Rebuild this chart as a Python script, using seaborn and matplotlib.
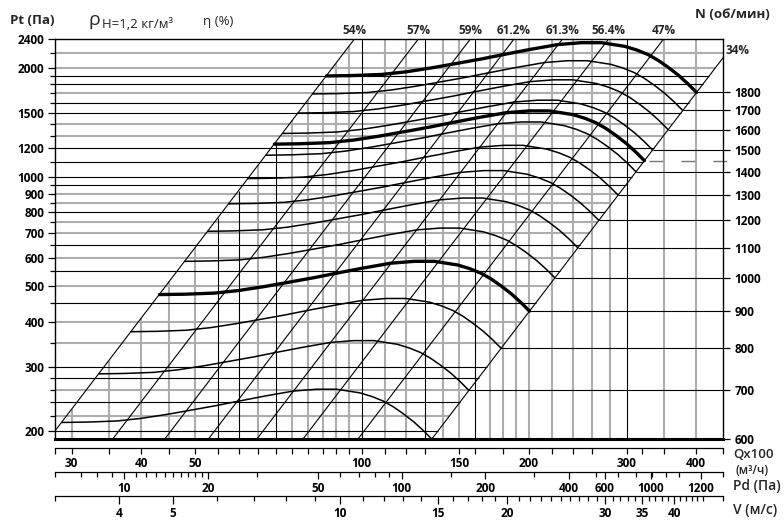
import numpy as np
import pandas as pd
import matplotlib
matplotlib.use("Agg")
import matplotlib.pyplot as plt
from matplotlib.ticker import FixedLocator, FixedFormatter, NullFormatter, NullLocator
from matplotlib.transforms import blended_transform_factory
import seaborn as sns

# ---------------- data ----------------
# base fan curve at N = 600 rpm (Q x100 m3/h, Pt Pa)
base_q = [28.8, 32.0, 36.2, 40.0, 44.5, 49.5, 54.8, 59.5, 67.4, 75.3, 83.0, 90.1,
          99.3, 104.5, 109.4, 114.0, 118.8, 124.0, 129.1, 133.7]
base_pt = [211, 211.5, 213, 216.5, 222, 228.5, 235, 241, 250, 257.5, 260.5, 260.5,
           254.5, 248.5, 241.5, 233, 223, 212, 200.5, 190]
n_base = 600
n_rpm = [600, 700, 800, 900, 1000, 1100, 1200, 1300, 1400, 1450, 1500, 1600, 1700, 1800]
n_bold = [900, 1450, 1800]
n_dashed = 1450

# efficiency (system) lines: label and Q at Pt = 200 Pa
eta_labels = ["54%", "57%", "59%", "61.2%", "61.3%", "56.4%", "47%", "34%"]
eta_q200 = [28.0, 36.5, 45.3, 54.3, 66.4, 80.4, 101.0, 137.2]

# grid lines
pt_grid_black = [200, 240, 280, 300, 450, 550, 650, 800, 950, 1000, 1100, 1200,
                 1500, 1600, 1800, 1900]
pt_grid_gray = [220, 260, 350, 400, 500, 600, 700, 750, 850, 900, 1300, 1400,
                1700, 2000, 2200]
q_grid_black = [55, 60, 70, 100, 130, 160, 300]
q_grid_gray = [30, 35, 40, 45, 50, 65, 75, 80, 85, 90, 95, 110, 120, 140, 150,
               170, 180, 190, 200, 220, 240, 260, 280, 350, 400]

# axes ticks
pt_ticks = [200, 300, 400, 500, 600, 700, 800, 900, 1000, 1200, 1500, 2000, 2400]
pt_minor = [220, 240, 260, 280, 350, 450, 550, 650, 750, 850, 950, 1100, 1300,
            1400, 1600, 1700, 1800, 1900, 2200]
n_ticks = [600, 700, 800, 900, 1000, 1100, 1200, 1300, 1400, 1500, 1600, 1700, 1800]
q_ticks = [30, 40, 50, 100, 150, 200, 300, 400]
q_minor = [35, 45, 55, 60, 65, 70, 75, 80, 85, 90, 95, 110, 120, 130, 160, 180,
           220, 240, 260, 320, 350]
pd_tick_pos = [10, 20, 50, 100, 200, 400, 540, 790, 1200]
pd_tick_lab = ["10", "20", "50", "100", "200", "400", "600", "1000", "1200"]
pd_minor = [7, 8, 9, 11, 12, 13, 14, 15, 16, 17, 18, 19, 30, 60, 70, 80, 90, 150,
            300, 500, 600, 700, 800, 900, 1000]
v_ticks = [4, 5, 10, 15, 20, 30, 35, 40]
v_minor = [6, 7, 8, 9, 11, 12, 13, 14, 16, 17, 18, 19, 21, 22, 23, 24, 25, 26, 27,
           28, 29, 31, 32, 33, 34, 36, 37, 38, 39, 41, 42, 43, 44, 45]

# ranges
Q_MIN, Q_MAX = 28.0, 447.7
PT_MIN, PT_MAX = 190.0, 2400.0
V_PER_Q = 0.1094
PD_PER_V2 = 0.6

# ---------------- figure ----------------
sns.set_theme(style="white")
plt.rcParams["font.family"] = ["Open Sans", "DejaVu Sans"]

W_PX, H_PX = 784, 520
fig = plt.figure(figsize=(W_PX / 100, H_PX / 100), dpi=100)
L, R, T, B = 55, 723, 39, 439
ax = fig.add_axes([L / W_PX, 1 - B / H_PX, (R - L) / W_PX, (B - T) / H_PX])
ax.set_xscale("log")
ax.set_yscale("log")
ax.set_xlim(Q_MIN, Q_MAX)
ax.set_ylim(PT_MIN, PT_MAX)
ax.grid(False)

GRAY = "#adadad"
q54 = eta_q200[0]
q34 = eta_q200[-1]

# horizontal grid (from left spine to the 34 % line)
for plist, col, lw, z in [(pt_grid_gray, GRAY, 1.5, 1), (pt_grid_black, "black", 0.8, 2)]:
    for p in plist:
        xend = min(Q_MAX, q34 * np.sqrt(p / 200.0))
        ax.hlines(p, Q_MIN, xend, colors=col, linewidth=lw, zorder=z)

# vertical grid (from 54 % line down to bottom)
for qlist, col, lw, z in [(q_grid_gray, GRAY, 1.5, 1), (q_grid_black, "black", 0.8, 2)]:
    for q in qlist:
        ytop = min(PT_MAX, 200.0 * (q / q54) ** 2)
        ax.vlines(q, PT_MIN, ytop, colors=col, linewidth=lw, zorder=z)

# efficiency lines
eta_rows = []
for lab, q0 in zip(eta_labels, eta_q200):
    for p in (PT_MIN * 0.98, PT_MAX * 1.02):
        eta_rows.append({"eta": lab, "Q": q0 * np.sqrt(p / 200.0), "Pt": p})
eta_df = pd.DataFrame(eta_rows)
sns.lineplot(data=eta_df, x="Q", y="Pt", units="eta", estimator=None, color="black",
             linewidth=0.8, ax=ax, legend=False, zorder=3)

# fan curves by affinity laws
rows = []
for n in n_rpm:
    k = n / n_base
    for q, p in zip(base_q, base_pt):
        rows.append({"N": n, "Q": q * k, "Pt": p * k * k,
                     "w": "bold" if n in n_bold else "thin"})
fan_df = pd.DataFrame(rows)
sns.lineplot(data=fan_df, x="Q", y="Pt", units="N", estimator=None, color="black",
             size="w", sizes={"bold": 2.4, "thin": 1.1}, ax=ax, legend=False, zorder=4)

# N level lines in the right region
for n in n_ticks[1:]:
    k = n / n_base
    ax.hlines(base_pt[-1] * k * k, base_q[-1] * k, Q_MAX, colors="black",
              linewidth=0.8, zorder=2)
kd = n_dashed / n_base
ax.plot([base_q[-1] * kd * 1.02, Q_MAX * 1.038], [base_pt[-1] * kd * kd] * 2,
        color="#7a7a7a", linewidth=1.0, linestyle=(0, (10, 13)), clip_on=False, zorder=2)

ax.set_xlabel("")
ax.set_ylabel("")
ax.xaxis.set_major_locator(NullLocator())
ax.xaxis.set_minor_locator(NullLocator())
ax.yaxis.set_major_locator(FixedLocator(pt_ticks))
ax.yaxis.set_major_formatter(FixedFormatter([str(v) for v in pt_ticks]))
ax.yaxis.set_minor_locator(FixedLocator(pt_minor))
ax.yaxis.set_minor_formatter(NullFormatter())
ax.tick_params(axis="y", which="major", left=True, direction="out", length=5.2,
               width=0.9, pad=2.5, labelsize=8.5, colors="black")
ax.tick_params(axis="y", which="minor", left=True, direction="out", length=3.5,
               width=0.9, colors="black")
for t in ax.get_yticklabels():
    t.set_fontweight("bold")
for s in ["left", "top"]:
    ax.spines[s].set_color("black")
    ax.spines[s].set_linewidth(1.0)
ax.spines["bottom"].set_color("black")
ax.spines["bottom"].set_linewidth(2.2)
ax.spines["right"].set_visible(False)

# right N axis
ax2 = ax.twinx()
ax2.set_yscale("log")
ax2.set_ylim(n_base, n_base * np.sqrt(PT_MAX / PT_MIN))
ax2.grid(False)
ax2.yaxis.set_major_locator(FixedLocator(n_ticks))
ax2.yaxis.set_major_formatter(FixedFormatter([str(v) for v in n_ticks]))
ax2.yaxis.set_minor_locator(NullLocator())
ax2.tick_params(axis="y", which="major", right=True, direction="out", length=5.2,
                width=0.9, pad=3, labelsize=8.5, colors="black")
for t in ax2.get_yticklabels():
    t.set_fontweight("bold")
for s in ["left", "top", "bottom"]:
    ax2.spines[s].set_visible(False)
ax2.spines["right"].set_color("black")
ax2.spines["right"].set_linewidth(1.0)
ax2.patch.set_visible(False)

# efficiency labels
tr = blended_transform_factory(ax.transData, ax.transAxes)
for lab, q0 in zip(eta_labels[:-1], eta_q200[:-1]):
    ax.text(q0 * np.sqrt(PT_MAX / 200.0), 1 + 9 / 400, lab, transform=tr,
            ha="center", va="center", fontsize=8.5, fontweight="bold", clip_on=False)
ax.text(1.004, (B - 50) / (B - T), eta_labels[-1], transform=ax.transAxes,
        ha="left", va="center", fontsize=8.5, fontweight="bold", clip_on=False)


# bottom scales
def bottom_axis(ypix, lo, hi, major, labels, minor, majlen, minlen):
    a = fig.add_axes([L / W_PX, 1 - ypix / H_PX, (R - L) / W_PX, 1e-4])
    a.set_xscale("log")
    a.set_xlim(lo, hi)
    a.set_yticks([])
    a.grid(False)
    for s in ["left", "right", "top"]:
        a.spines[s].set_visible(False)
    a.spines["bottom"].set_color("black")
    a.spines["bottom"].set_linewidth(0.9)
    a.xaxis.set_major_locator(FixedLocator(major))
    a.xaxis.set_major_formatter(FixedFormatter(labels))
    a.xaxis.set_minor_locator(FixedLocator(list(minor) + [lo * 1.0005, hi * 0.9995]))
    a.xaxis.set_minor_formatter(NullFormatter())
    a.tick_params(axis="x", which="major", bottom=True, direction="out", length=majlen,
                  width=0.9, pad=2, labelsize=8.5, colors="black")
    a.tick_params(axis="x", which="minor", bottom=True, direction="out", length=minlen,
                  width=0.9, colors="black")
    for t in a.get_xticklabels():
        t.set_fontweight("bold")
    a.patch.set_visible(False)
    return a


bottom_axis(448, Q_MIN, Q_MAX, q_ticks, [str(v) for v in q_ticks], q_minor, 4.3, 4.0)
v_lo, v_hi = Q_MIN * V_PER_Q, Q_MAX * V_PER_Q
bottom_axis(472, PD_PER_V2 * v_lo ** 2, PD_PER_V2 * v_hi ** 2, pd_tick_pos,
            pd_tick_lab, pd_minor, 5.2, 3.4)
bottom_axis(496, v_lo, v_hi, v_ticks, [str(v) for v in v_ticks], v_minor, 5.6, 3.6)


def ftext(xp, yp, s, **kw):
    fig.text(xp / W_PX, 1 - yp / H_PX, s, **kw)


ftext(10, 21, "Pt (Па)", fontsize=9.5, fontweight="bold", ha="left", va="center")
ftext(88, 25, "ρ", fontsize=14, ha="left", va="baseline")
ftext(102, 28, "Н=1,2 кг/м³", fontsize=9.5, ha="left", va="baseline")
ftext(203, 21, "η (%)", fontsize=9.5, ha="left", va="center")
ftext(732, 15, "N (об/мин)", fontsize=9.5, fontweight="bold", ha="center", va="center")
ftext(733, 455, "Qx100", fontsize=9.5, fontweight="semibold", ha="left", va="center")
ftext(735, 470, "(м³/ч)", fontsize=8.5, fontweight="semibold", ha="left", va="center")
ftext(733, 486, "Pd (Па)", fontsize=10, fontweight="semibold", ha="left", va="center")
ftext(733, 510, "V (м/с)", fontsize=10, fontweight="semibold", ha="left", va="center")

fig.savefig("out.png", dpi=100)
